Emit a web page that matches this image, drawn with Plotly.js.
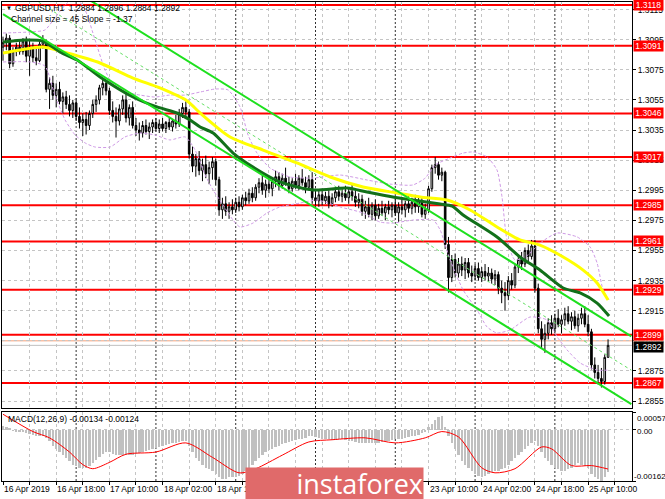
<!DOCTYPE html>
<html><head><meta charset="utf-8">
<script src="https://cdn.plot.ly/plotly-3.0.1.min.js"></script>
<style>html,body{margin:0;padding:0;background:#fff;}#chart{width:665px;height:499px;}</style>
</head><body><div id="chart"></div>
<script>
// ---- hourly GBPUSD candles (16 Apr 02:00 .. 25 Apr 16:00) ----
const openP = [1.3090,1.3093,1.3096,1.3079,1.3087,1.3090,1.3087,1.3094,1.3084,1.3090,
1.3083,1.3081,1.3092,1.3094,1.3062,1.3066,1.3058,1.3062,1.3054,1.3057,
1.3052,1.3048,1.3053,1.3044,1.3040,1.3042,1.3038,1.3046,1.3052,1.3055,
1.3063,1.3066,1.3061,1.3048,1.3044,1.3041,1.3049,1.3055,1.3043,1.3050,
1.3038,1.3035,1.3033,1.3038,1.3034,1.3037,1.3040,1.3036,1.3039,1.3036,
1.3040,1.3037,1.3041,1.3039,1.3046,1.3050,1.3047,1.3019,1.3011,1.3016,
1.3008,1.3012,1.3006,1.3010,1.3014,1.3002,1.2982,1.2986,1.2981,1.2984,
1.2982,1.2987,1.2984,1.2990,1.2988,1.2993,1.2990,1.2997,1.3000,1.2995,
1.2999,1.2996,1.3001,1.3004,1.2998,1.3003,1.3000,1.2996,1.3001,1.2998,
1.3003,1.3000,1.2997,1.3002,1.2990,1.2988,1.2992,1.2988,1.2991,1.2986,
1.2990,1.2994,1.2991,1.2993,1.2990,1.2994,1.2991,1.2987,1.2989,1.2981,
1.2984,1.2979,1.2985,1.2978,1.2983,1.2980,1.2984,1.2982,1.2985,1.2980,
1.2984,1.2982,1.2986,1.2983,1.2987,1.2984,1.2988,1.2979,1.2982,1.2996,
1.3010,1.3012,1.3005,1.3007,1.2959,1.2937,1.2949,1.2940,1.2946,1.2942,
1.2947,1.2940,1.2938,1.2943,1.2937,1.2941,1.2938,1.2940,1.2936,1.2939,
1.2930,1.2927,1.2925,1.2935,1.2932,1.2944,1.2949,1.2946,1.2955,1.2951,
1.2958,1.2930,1.2903,1.2896,1.2900,1.2907,1.2903,1.2910,1.2906,1.2909,
1.2913,1.2908,1.2911,1.2905,1.2910,1.2913,1.2906,1.2901,1.2879,1.2874,
1.2870,1.2868,1.2884];
const highP = [1.3097,1.3099,1.3098,1.3090,1.3093,1.3094,1.3096,1.3097,1.3095,1.3093,
1.3089,1.3094,1.3098,1.3095,1.3070,1.3071,1.3066,1.3067,1.3060,1.3061,
1.3058,1.3055,1.3056,1.3050,1.3046,1.3047,1.3048,1.3055,1.3058,1.3065,
1.3069,1.3068,1.3063,1.3054,1.3050,1.3052,1.3058,1.3059,1.3052,1.3054,
1.3043,1.3040,1.3041,1.3042,1.3040,1.3042,1.3043,1.3042,1.3043,1.3041,
1.3043,1.3042,1.3045,1.3049,1.3053,1.3054,1.3049,1.3024,1.3019,1.3021,
1.3016,1.3018,1.3014,1.3017,1.3016,1.3004,1.2990,1.2991,1.2987,1.2989,
1.2990,1.2991,1.2992,1.2994,1.2996,1.2997,1.2999,1.3003,1.3005,1.3002,
1.3004,1.3003,1.3008,1.3007,1.3006,1.3010,1.3004,1.3003,1.3006,1.3005,
1.3009,1.3004,1.3005,1.3007,1.2996,1.2995,1.2996,1.2994,1.2995,1.2993,
1.2997,1.2998,1.2996,1.2998,1.2997,1.2999,1.2996,1.2993,1.2992,1.2988,
1.2990,1.2987,1.2989,1.2986,1.2988,1.2986,1.2988,1.2987,1.2989,1.2987,
1.2990,1.2988,1.2991,1.2990,1.2992,1.2991,1.2990,1.2986,1.2998,1.3012,
1.3017,1.3014,1.3010,1.3008,1.2964,1.2952,1.2953,1.2950,1.2951,1.2950,
1.2950,1.2945,1.2946,1.2947,1.2944,1.2946,1.2944,1.2943,1.2942,1.2941,
1.2935,1.2934,1.2938,1.2940,1.2946,1.2952,1.2954,1.2957,1.2959,1.2962,
1.2962,1.2933,1.2908,1.2906,1.2910,1.2912,1.2913,1.2916,1.2912,1.2917,
1.2918,1.2914,1.2915,1.2913,1.2917,1.2918,1.2912,1.2903,1.2884,1.2879,
1.2877,1.2886,1.2896];
const lowP = [1.3081,1.3088,1.3076,1.3077,1.3084,1.3085,1.3085,1.3080,1.3071,1.3080,
1.3078,1.3080,1.3089,1.3060,1.3049,1.3055,1.3050,1.3052,1.3046,1.3049,
1.3044,1.3043,1.3041,1.3036,1.3031,1.3032,1.3035,1.3043,1.3047,1.3052,
1.3058,1.3058,1.3045,1.3040,1.3030,1.3038,1.3045,1.3040,1.3038,1.3036,
1.3031,1.3028,1.3030,1.3032,1.3029,1.3033,1.3034,1.3033,1.3034,1.3033,
1.3035,1.3034,1.3036,1.3037,1.3043,1.3044,1.3016,1.3007,1.3004,1.3005,
1.3001,1.3003,1.2999,1.3002,1.2998,1.2978,1.2976,1.2978,1.2976,1.2979,
1.2980,1.2981,1.2982,1.2985,1.2986,1.2987,1.2988,1.2993,1.2992,1.2990,
1.2993,1.2991,1.2997,1.2995,1.2996,1.2998,1.2993,1.2994,1.2996,1.2995,
1.2998,1.2993,1.2995,1.2986,1.2985,1.2984,1.2985,1.2986,1.2983,1.2984,
1.2987,1.2988,1.2987,1.2988,1.2986,1.2988,1.2984,1.2983,1.2978,1.2976,
1.2977,1.2975,1.2975,1.2976,1.2978,1.2975,1.2979,1.2977,1.2978,1.2974,
1.2979,1.2977,1.2980,1.2979,1.2980,1.2980,1.2977,1.2976,1.2980,1.2994,
1.3006,1.3002,1.3001,1.2956,1.2927,1.2934,1.2937,1.2937,1.2938,1.2936,
1.2937,1.2934,1.2935,1.2935,1.2934,1.2935,1.2934,1.2933,1.2932,1.2926,
1.2920,1.2915,1.2922,1.2929,1.2930,1.2940,1.2942,1.2944,1.2947,1.2949,
1.2927,1.2900,1.2890,1.2887,1.2896,1.2899,1.2900,1.2904,1.2900,1.2905,
1.2906,1.2902,1.2903,1.2901,1.2906,1.2904,1.2898,1.2876,1.2870,1.2866,
1.2864,1.2866,1.2884];
const closeP = [1.3093,1.3096,1.3079,1.3087,1.3090,1.3087,1.3094,1.3084,1.3090,1.3083,
1.3081,1.3092,1.3094,1.3062,1.3066,1.3058,1.3062,1.3054,1.3057,1.3052,
1.3048,1.3053,1.3044,1.3040,1.3042,1.3038,1.3046,1.3052,1.3055,1.3063,
1.3066,1.3061,1.3048,1.3044,1.3041,1.3049,1.3055,1.3043,1.3050,1.3038,
1.3035,1.3033,1.3038,1.3034,1.3037,1.3040,1.3036,1.3039,1.3036,1.3040,
1.3037,1.3041,1.3039,1.3046,1.3050,1.3047,1.3019,1.3011,1.3016,1.3008,
1.3012,1.3006,1.3010,1.3014,1.3002,1.2982,1.2986,1.2981,1.2984,1.2982,
1.2987,1.2984,1.2990,1.2988,1.2993,1.2990,1.2997,1.3000,1.2995,1.2999,
1.2996,1.3001,1.3004,1.2998,1.3003,1.3000,1.2996,1.3001,1.2998,1.3003,
1.3000,1.2997,1.3002,1.2990,1.2988,1.2992,1.2988,1.2991,1.2986,1.2990,
1.2994,1.2991,1.2993,1.2990,1.2994,1.2991,1.2987,1.2989,1.2981,1.2984,
1.2979,1.2985,1.2978,1.2983,1.2980,1.2984,1.2982,1.2985,1.2980,1.2984,
1.2982,1.2986,1.2983,1.2987,1.2984,1.2988,1.2979,1.2982,1.2996,1.3010,
1.3012,1.3005,1.3007,1.2959,1.2937,1.2949,1.2940,1.2946,1.2942,1.2947,
1.2940,1.2938,1.2943,1.2937,1.2941,1.2938,1.2940,1.2936,1.2939,1.2930,
1.2927,1.2925,1.2935,1.2932,1.2944,1.2949,1.2946,1.2955,1.2951,1.2958,
1.2930,1.2903,1.2896,1.2900,1.2907,1.2903,1.2910,1.2906,1.2909,1.2913,
1.2908,1.2911,1.2905,1.2910,1.2913,1.2906,1.2901,1.2879,1.2874,1.2870,
1.2868,1.2884,1.2892];

// ---- moving averages (bar index, value) ----
const maGreenIdx = [0,6.6,12,17.1,22.3,29.2,39.1,46.3,52.3,56.3,59.3,63.2,69.2,75.2,83.3,93.3,103.5,109.5,117.3,123.3,131.5,135.1,138.4,148.6,155.5,161.5,168.5,173.6,178.7,182.3];
const maGreenVal = [1.30934,1.30948,1.30941,1.30868,1.30815,1.30702,1.30569,1.30503,1.30463,1.30416,1.30370,1.30330,1.30197,1.30104,1.30005,1.29952,1.29965,1.29938,1.29905,1.29885,1.29859,1.29845,1.29786,1.29640,1.29507,1.29420,1.29301,1.29268,1.29201,1.29115];
const maYellowIdx = [0,5.1,12,19.3,29.2,39.1,47.2,55.4,59.3,68.3,78.2,88.4,98.4,108.3,118.5,125.5,133.6,140.5,148.6,155.5,161.5,168.5,174.5,178.7,182];
const maYellowVal = [1.30861,1.30881,1.30901,1.30861,1.30795,1.30695,1.30629,1.30543,1.30463,1.30304,1.30217,1.30131,1.30038,1.29972,1.29932,1.29905,1.29885,1.29819,1.29706,1.29620,1.29586,1.29507,1.29420,1.29334,1.29221];

// ---- bands (dashed violet) ----
const bandUpIdx = [0,8.1,12.6,15.6,18.7,21.7,24.7,27.7,30.7,33.1,36.7,41.2,45.7,50.2,54.8,59.3,63.8,67.7,71.3,73.7,76.4,80.3,86.3,93.3,101.4,109.5,116.4,123.3,127,130,134.5,138.4,141.4,145.6,148.6,150.1,151.6,154,157.9,161.6,166.7,172.7,176.6,178.7,180.5,182.3];
const bandUpVal = [1.30994,1.31001,1.31014,1.31094,1.31180,1.31233,1.31147,1.30948,1.30748,1.30649,1.30602,1.30582,1.30569,1.30582,1.30582,1.30602,1.30622,1.30616,1.30503,1.30317,1.30197,1.30098,1.30038,1.30031,1.30051,1.30018,1.29991,1.29985,1.30031,1.30118,1.30164,1.30197,1.30204,1.30171,1.30084,1.29905,1.29620,1.29487,1.29520,1.29600,1.29666,1.29640,1.29573,1.29467,1.29288,1.29221];
const bandLoIdx = [0,8.1,12.6,15.6,18.7,21.7,24.7,27.7,32.2,36.7,41.2,45.7,50.2,54.8,57.8,60.8,63.2,66.2,69.2,71.3,75.2,79.4,83.3,89.4,94.5,101.4,108.3,113.4,117.3,123.3,129.4,131.5,134.5,138.4,142.6,145.6,148.6,152.5,158.5,163.7,166.7,169.7,173.6,178.7,182.3];
const bandLoVal = [1.30802,1.30802,1.30775,1.30582,1.30416,1.30317,1.30264,1.30237,1.30237,1.30304,1.30330,1.30317,1.30284,1.30304,1.30217,1.30051,1.29952,1.29852,1.29752,1.29706,1.29732,1.29799,1.29839,1.29865,1.29885,1.29839,1.29799,1.29739,1.29732,1.29752,1.29752,1.29686,1.29487,1.29288,1.29155,1.29042,1.29002,1.29022,1.29108,1.29088,1.28976,1.28889,1.28803,1.28756,1.28756];

// ---- regression channel (size 45, slope -1.37) ----
const channelIdx = [0, 189];
const channelUpper = [1.3157, 1.2898];
const channelMiddle = [1.31345, 1.28755];
const channelLower = [1.3112, 1.2853];

// ---- levels and prices ----
const levels = [1.3118, 1.3091, 1.3046, 1.3017, 1.2985, 1.2961, 1.2929, 1.2899, 1.2867];
const askPrice = 1.2895;
const bidPrice = 1.2892;
const priceTicks = [1.3115,1.3095,1.3075,1.3055,1.3035,1.3015,1.2995,1.2975,1.2955,1.2935,1.2915,1.2895,1.2875,1.2855];

// ---- MACD(12,26,9) ----
const macdHist = [0.00012,0.00010,0.00006,
-0.00003,-0.00005,-0.00006,-0.00008,-0.00010,-0.00012,
-0.00015,-0.00018,-0.00020,-0.00020,-0.00025,-0.00035,
-0.00050,-0.00060,-0.00070,-0.00080,-0.00090,-0.00100,-0.00110,-0.00115,
-0.00120,-0.00122,-0.00120,-0.00115,
-0.00105,-0.00095,-0.00085,-0.00075,-0.00070,-0.00070,-0.00075,
-0.00080,-0.00080,-0.00078,-0.00078,-0.00080,-0.00078,-0.00075,-0.00072,-0.00070,-0.00068,-0.00065,-0.00060,-0.00058,
-0.00055,-0.00050,-0.00048,-0.00045,-0.00042,-0.00040,-0.00038,-0.00035,-0.00035,
-0.00050,-0.00070,-0.00090,-0.00100,-0.00110,
-0.00120,-0.00125,-0.00130,-0.00140,-0.00150,-0.00155,-0.00155,-0.00150,-0.00150,-0.00148,
-0.00145,-0.00140,-0.00130,-0.00120,-0.00110,-0.00100,-0.00090,-0.00080,-0.00070,-0.00065,
-0.00060,-0.00055,-0.00050,-0.00045,-0.00040,-0.00038,-0.00035,-0.00032,-0.00030,-0.00028,
-0.00025,-0.00020,-0.00020,-0.00022,-0.00025,-0.00028,-0.00030,-0.00030,-0.00032,-0.00032,
-0.00030,-0.00030,-0.00032,-0.00035,-0.00035,-0.00038,-0.00040,-0.00040,-0.00042,-0.00042,
-0.00040,-0.00040,-0.00040,-0.00038,-0.00035,-0.00035,-0.00033,-0.00030,-0.00030,-0.00028,
-0.00025,-0.00022,-0.00020,-0.00018,-0.00015,-0.00010,-0.00005,
0.00008,0.00020,0.00032,0.00042,0.00045,
0.00010,-0.00020,-0.00040,-0.00060,-0.00080,
-0.00100,-0.00110,-0.00120,-0.00130,-0.00140,-0.00145,-0.00150,-0.00145,
-0.00140,-0.00135,-0.00130,-0.00130,-0.00125,-0.00120,-0.00110,
-0.00100,-0.00090,-0.00080,-0.00070,-0.00060,-0.00050,-0.00040,-0.00035,
-0.00050,-0.00070,-0.00090,-0.00100,-0.00110,-0.00120,-0.00125,-0.00130,
-0.00130,-0.00125,-0.00120,-0.00110,-0.00105,-0.00110,-0.00115,
-0.00120,-0.00140,-0.00150,-0.00155,-0.00162,-0.00150,-0.00134];
const signalIdx = [0,9,14,20,24,27,32,37,46,55,63,71,76,84,92,99,109,118,127,132,137,144,148,154,162,165,171,177,182];
const signalVal = [0.00050,-0.00005,-0.00025,-0.00070,-0.00110,-0.00123,-0.00103,-0.00077,-0.00070,-0.00041,-0.00087,-0.00136,-0.00123,-0.00080,-0.00038,-0.00031,-0.00025,-0.00041,-0.00025,-0.00005,-0.00022,-0.00120,-0.00136,-0.00123,-0.00054,-0.00060,-0.00113,-0.00113,-0.00124];
const macdTicks = [0.00057, 0.00, -0.00162];

// ---- time axis (labels visible in the picture) ----
const timeLabelIdx = [0,16,32,48,64,128,144,160,176];
const timeLabels = ['16 Apr 2019','16 Apr 18:00','17 Apr 10:00','18 Apr 02:00','18 Apr 18:00','23 Apr 10:00','24 Apr 02:00','24 Apr 18:00','25 Apr 10:00'];
const daySeparatorIdx = [22,46,70,94,118,142,166];

// ---- build ----
const idx = closeP.map((_, i) => i);
const gridIdx = []; for (let g = 0; g <= 188; g += 8) gridIdx.push(g);

const FONT = 'Liberation Sans, Arial, sans-serif';
const traces = [];
const bandStyle = {color:'#cf9ae6', width:1, dash:'3px,2px', shape:'spline', smoothing:0.6};
traces.push({type:'scatter', mode:'lines', x:bandUpIdx, y:bandUpVal, line:bandStyle, xaxis:'x', yaxis:'y', hoverinfo:'skip'});
traces.push({type:'scatter', mode:'lines', x:bandLoIdx, y:bandLoVal, line:bandStyle, xaxis:'x', yaxis:'y', hoverinfo:'skip'});
traces.push({type:'scatter', mode:'lines', x:channelIdx, y:channelMiddle, line:{color:'#66e066', width:1, dash:'3px,3px'}, xaxis:'x', yaxis:'y', hoverinfo:'skip'});
traces.push({type:'candlestick', x:idx, open:openP, high:highP, low:lowP, close:closeP,
  increasing:{line:{color:'#000', width:1}, fillcolor:'#ffffff'},
  decreasing:{line:{color:'#000', width:1}, fillcolor:'#000000'},
  whiskerwidth:0, xaxis:'x', yaxis:'y', hoverinfo:'skip'});
traces.push({type:'scatter', mode:'lines', x:maYellowIdx, y:maYellowVal, line:{color:'#ffff00', width:3, shape:'spline', smoothing:0.7}, xaxis:'x', yaxis:'y', hoverinfo:'skip'});
traces.push({type:'scatter', mode:'lines', x:maGreenIdx, y:maGreenVal, line:{color:'#12701a', width:3, shape:'spline', smoothing:0.7}, xaxis:'x', yaxis:'y', hoverinfo:'skip'});
traces.push({type:'scatter', mode:'lines', x:channelIdx, y:channelUpper, line:{color:'#1ee01e', width:2}, xaxis:'x', yaxis:'y', hoverinfo:'skip'});
traces.push({type:'scatter', mode:'lines', x:channelIdx, y:channelLower, line:{color:'#1ee01e', width:2}, xaxis:'x', yaxis:'y', hoverinfo:'skip'});
traces.push({type:'bar', x:idx, y:macdHist, width:0.72, marker:{color:'#c0c0c0', line:{width:0}}, xaxis:'x2', yaxis:'y2', hoverinfo:'skip'});
traces.push({type:'scatter', mode:'lines', x:signalIdx, y:signalVal, line:{color:'#ff0000', width:1, shape:'spline', smoothing:0.8}, xaxis:'x2', yaxis:'y2', hoverinfo:'skip'});

const shapes = [];
levels.forEach(l => shapes.push({type:'line', xref:'paper', x0:0, x1:1, yref:'y', y0:l, y1:l, line:{color:'#ff0000', width:2}, layer:'below'}));
shapes.push({type:'line', xref:'paper', x0:0, x1:1, yref:'y', y0:askPrice, y1:askPrice, line:{color:'#f5a07a', width:1}, layer:'below'});
shapes.push({type:'line', xref:'paper', x0:0, x1:1, yref:'y', y0:bidPrice, y1:bidPrice, line:{color:'#c0c0c0', width:1}, layer:'below'});
daySeparatorIdx.forEach(d => {
  shapes.push({type:'line', xref:'x', x0:d, x1:d, yref:'y domain', y0:0, y1:1, line:{color:'#303030', width:1, dash:'2px,2px'}, layer:'below'});
  shapes.push({type:'line', xref:'x2', x0:d, x1:d, yref:'y2 domain', y0:0, y1:1, line:{color:'#303030', width:1, dash:'2px,2px'}, layer:'below'});
});

const ann = [];
timeLabelIdx.forEach((t, i) => ann.push({xref:'x', x:t, xanchor:'left', yref:'paper', y:-0.017, yanchor:'middle', text:timeLabels[i], showarrow:false, font:{family:FONT, size:8.5, color:'#000'}, xshift:-1}));
// ask label first, so that the level and bid boxes sit over it
ann.push({xref:'paper', x:1, xanchor:'left', xshift:1, yref:'y', y:askPrice, yanchor:'middle', yshift:0, text:askPrice.toFixed(4), showarrow:false, bgcolor:'#f7b89c', width:29, height:10, borderpad:0, font:{family:FONT, size:8.5, color:'#ffffff'}});
levels.forEach(l => ann.push({xref:'paper', x:1, xanchor:'left', xshift:1, yref:'y', y:l, yanchor:'middle', text:l.toFixed(4), showarrow:false, bgcolor:'#ff0000', width:29, height:10, borderpad:0, font:{family:FONT, size:8.5, color:'#ffffff'}}));
ann.push({xref:'paper', x:1, xanchor:'left', xshift:1, yref:'y', y:bidPrice, yanchor:'middle', yshift:-2, text:bidPrice.toFixed(4), showarrow:false, bgcolor:'#000000', width:29, height:10, borderpad:0, font:{family:FONT, size:8.5, color:'#ffffff'}});
macdTicks.forEach((v, i) => ann.push({xref:'paper', x:1, xanchor:'left', xshift:[3,3,0][i], yref:'y2', y:v, yanchor:'middle', yshift:[-6,-2,5][i], text:(v===0?'0.00':v.toFixed(5)), showarrow:false, font:{family:FONT, size:8, color:'#000'}}));
ann.push({xref:'paper', x:0.0032, xanchor:'left', yref:'paper', y:0.9875, yanchor:'middle', text:'\u25BC', showarrow:false, font:{family:FONT, size:6, color:'#000'}});
ann.push({xref:'paper', x:0.0175, xanchor:'left', yref:'paper', y:0.9875, yanchor:'middle', text:'GBPUSD,H1\u00a0\u00a0' + [1.2884,1.2896,1.2884,1.2892].map(v=>v.toFixed(4)).join(' '), showarrow:false, font:{family:FONT, size:8.5, color:'#000'}});
ann.push({xref:'paper', x:0.0111, xanchor:'left', yref:'paper', y:0.9645, yanchor:'middle', text:'Channel size = 45 Slope = -1.37', showarrow:false, font:{family:FONT, size:8.5, color:'#000'}});
ann.push({xref:'paper', x:0.0064, xanchor:'left', yref:'paper', y:0.1294, yanchor:'middle', text:'MACD(12,26,9) ' + macdHist[macdHist.length-1].toFixed(5) + ' ' + signalVal[signalVal.length-1].toFixed(5), showarrow:false, font:{family:FONT, size:8.5, color:'#000'}});
ann.push({xref:'paper', x:0.3857, xanchor:'left', yref:'paper', y:-0.0042, yanchor:'middle', text:'instaforex', showarrow:false, bgcolor:'#e06a6a', width:177, height:31, align:'right', borderpad:0, font:{family:'Open Sans, Liberation Sans, sans-serif', size:27, color:'#ffffff'}});

const axX = {range:[-0.3,189.2], tickmode:'array', tickvals:gridIdx, showticklabels:false, ticks:'', showgrid:true, gridcolor:'#c4c4c4', griddash:'3px,3px', zeroline:false, showline:true, mirror:true, linecolor:'#000', linewidth:1, fixedrange:true};
const layout = {
  width:665, height:499, margin:{l:2, r:33, t:2, b:18},
  paper_bgcolor:'#ffffff', plot_bgcolor:'#ffffff', showlegend:false,
  font:{family:FONT, size:8.5, color:'#000'},
  xaxis:Object.assign({}, axX, {domain:[0,1], anchor:'y', rangeslider:{visible:false}}),
  xaxis2:Object.assign({}, axX, {domain:[0,1], anchor:'y2', matches:'x', ticks:'outside', ticklen:3, tickcolor:'#000'}),
  yaxis:{domain:[0.1524,1], range:[1.28504,1.3120], side:'right', anchor:'x', tickmode:'array', tickvals:priceTicks, tickformat:'.4f', ticks:'outside', ticklen:3, tickcolor:'#000', showgrid:true, gridcolor:'#c4c4c4', griddash:'3px,3px', zeroline:false, showline:true, mirror:true, linecolor:'#000', linewidth:1, tickfont:{family:FONT, size:8.5, color:'#000'}, fixedrange:true},
  yaxis2:{domain:[0,0.144], range:[-0.00162,0.00057], side:'right', anchor:'x2', tickmode:'array', tickvals:macdTicks, showticklabels:false, ticks:'outside', ticklen:3, tickcolor:'#000', showgrid:true, gridcolor:'#c4c4c4', griddash:'3px,3px', zeroline:false, showline:true, mirror:true, linecolor:'#000', linewidth:1, fixedrange:true},
  shapes:shapes, annotations:ann, bargap:0
};
Plotly.newPlot('chart', traces, layout, {staticPlot:true, displayModeBar:false});
</script>
</body></html>
